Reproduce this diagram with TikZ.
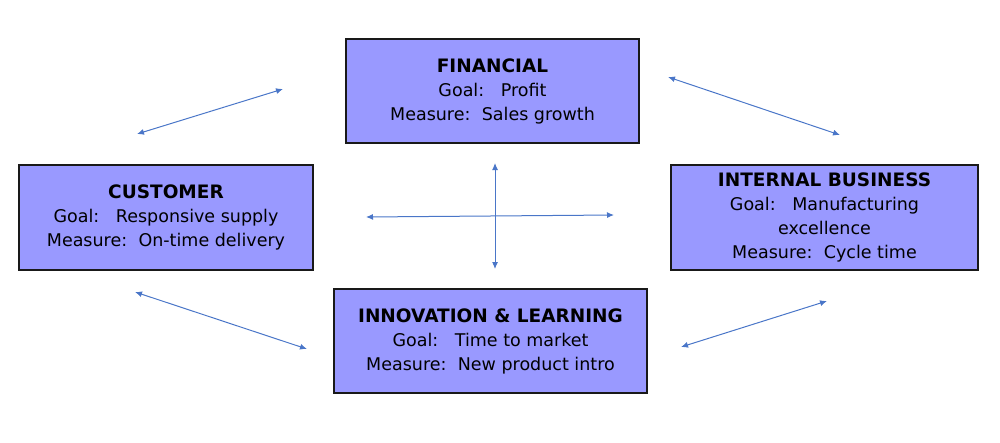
\documentclass[tikz,border=0pt]{standalone}
\usepackage{fontspec}
\setmainfont{DejaVu Sans}
\usetikzlibrary{arrows.meta}
\definecolor{boxfill}{HTML}{9999FF}
\definecolor{arrowblue}{HTML}{4A76C8}
\begin{document}
\begin{tikzpicture}[x=1pt,y=-1pt,
  card/.style={draw=black!90, line width=1.2pt, fill=boxfill, align=center,
    inner sep=0pt, font=\fontsize{17.5}{24}\selectfont, anchor=center},
  link/.style={draw=arrowblue, line width=1pt, {Latex[length=7pt,width=6pt]}-{Latex[length=7pt,width=6pt]}}]
\useasboundingbox (0,0) rectangle (1000,442);
\newcommand{\gsp}{\hspace{0.95em}}
\newcommand{\msp}{\hspace{0.65em}}
\newcommand{\ttl}[1]{{\fontsize{18.5}{24}\selectfont\textbf{#1}}}
\node[card, minimum width=293pt, minimum height=104pt] (fin) at (492.5,91)
  {\ttl{FINANCIAL}\\Goal:\gsp Profit\\Measure:\msp Sales growth};
\node[card, minimum width=294pt, minimum height=105pt] (cus) at (166,217.5)
  {\ttl{CUSTOMER}\\Goal:\gsp Responsive supply\\Measure:\msp On-time delivery};
\node[card, minimum width=307pt, minimum height=105pt] (int) at (824.5,217.5)
  {\ttl{INTERNAL BUSINESS}\\Goal:\gsp Manufacturing\\excellence\\Measure:\msp Cycle time};
\node[card, minimum width=313pt, minimum height=104pt] (inn) at (490.5,341)
  {\ttl{INNOVATION \& LEARNING}\\Goal:\gsp Time to market\\Measure:\msp New product intro};
\coordinate (tl1) at (137,134); \coordinate (tl2) at (283,89);
\coordinate (tr1) at (668,77); \coordinate (tr2) at (840,135);
\coordinate (bl1) at (135,292); \coordinate (bl2) at (307,349);
\coordinate (br1) at (681,347); \coordinate (br2) at (827,301);
\coordinate (h1) at (366,217); \coordinate (h2) at (614,215);
\coordinate (v1) at (495,163); \coordinate (v2) at (495,269);
\draw[link] (tl1) -- (tl2);
\draw[link] (tr1) -- (tr2);
\draw[link] (bl1) -- (bl2);
\draw[link] (br1) -- (br2);
\draw[link] (h1) -- (h2);
\draw[link] (v1) -- (v2);
\end{tikzpicture}
\end{document}
